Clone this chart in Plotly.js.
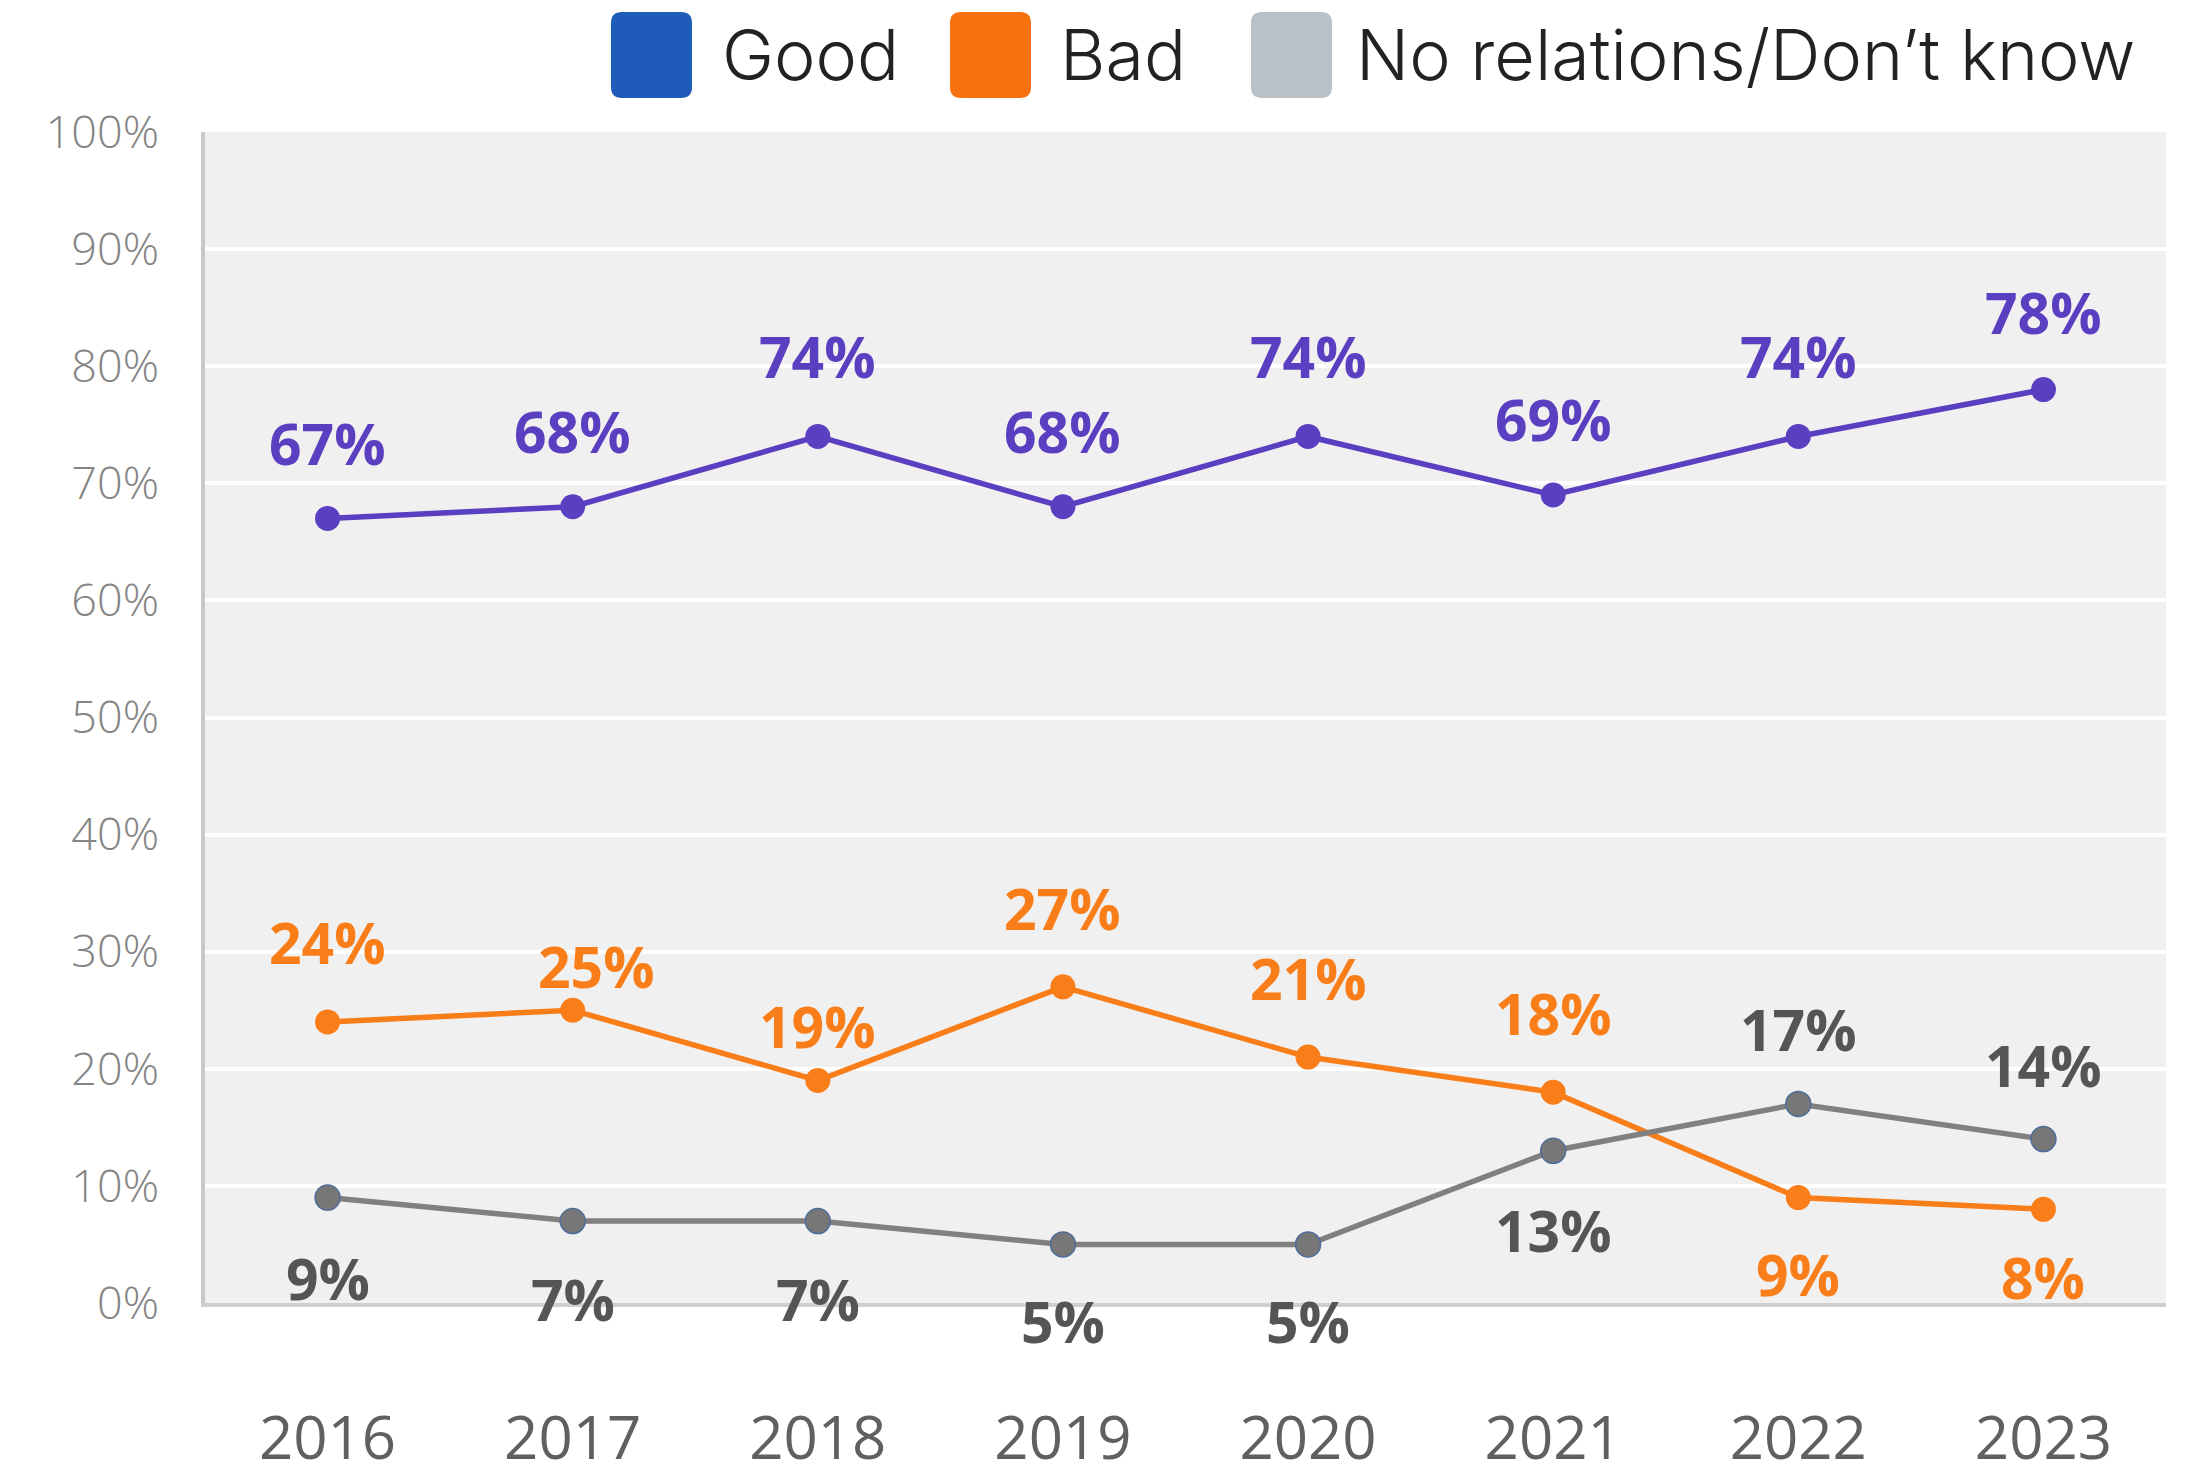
<!DOCTYPE html>
<html>
<head>
<meta charset="utf-8">
<script src="https://cdn.plot.ly/plotly-3.0.1.min.js"></script>
<style>
  html, body { margin: 0; padding: 0; background: #ffffff; }
  #chart { width: 2187px; height: 1476px; }
</style>
</head>
<body>
<div id="chart"></div>
<script>
// ---------------- DATA ----------------
const years = ['2016', '2017', '2018', '2019', '2020', '2021', '2022', '2023'];
const good = [67, 68, 74, 68, 74, 69, 74, 78];
const bad = [24, 25, 19, 27, 21, 18, 9, 8];
const noRelations = [9, 7, 7, 5, 5, 13, 17, 14];
const seriesNames = ['Good', 'Bad', 'No relations/Don\u2019t know'];
const yTickValues = [0, 10, 20, 30, 40, 50, 60, 70, 80, 90, 100];

// ---------------- STYLE ----------------
const lineColors = ['#5a3fc0', '#f97d18', '#808080'];
const markerColors = ['#5a3fc0', '#f97d18', '#777777'];
const labelColors = ['#5a3fc0', '#f97d18', '#555555'];
const legendColors = ['#1f5bb8', '#f7720f', '#b9c0c6'];
// label vertical shift (px, + is up) and horizontal shift for each point
const labelDy = [
  [75, 76, 80, 76, 80, 76, 80, 78],
  [80, 44, 55, 79, 79, 79, -76, -68],
  [-80, -78, -78, -77, -77, -79, 75, 74]
];
const labelDx = [
  [0, 0, 0, 0, 0, 0, 0, 0],
  [0, 24, 0, 0, 0, 0, 0, 0],
  [0, 0, 0, 0, 0, 0, 0, 0]
];
const legendLeftPx = [611, 950, 1251];   // swatch left edges
const legendTextPx = [720, 1058, 1354];  // text left edges

const W = 2187, H = 1476;
const M = { l: 205, r: 21, t: 132, b: 173 };
const plotW = W - M.l - M.r;

const seriesValues = [good, bad, noRelations];
const xIdx = years.map((_, i) => i);

const traces = seriesValues.map((vals, s) => ({
  type: 'scatter',
  mode: 'lines+markers',
  x: xIdx,
  y: vals,
  name: seriesNames[s],
  line: { color: lineColors[s], width: 5.5 },
  marker: {
    color: markerColors[s],
    size: 25,
    line: { color: s === 2 ? '#4f6d9a' : markerColors[s], width: s === 2 ? 1.5 : 0 }
  },
  cliponaxis: false,
  hoverinfo: 'skip'
}));

const annotations = [];
seriesValues.forEach((vals, s) => {
  vals.forEach((v, i) => {
    annotations.push({
      x: xIdx[i], y: v, xref: 'x', yref: 'y',
      text: v + '%',
      showarrow: false,
      xanchor: 'center', yanchor: 'middle',
      yshift: labelDy[s][i], xshift: labelDx[s][i],
      font: { family: 'Open Sans, sans-serif', size: 57, color: labelColors[s], weight: 700 }
    });
  });
});

// custom legend
const shapes = [];
function roundedRect(w, h, r, oy) {
  const y0 = oy, y1 = oy + h;
  return `M ${r},${y0} L ${w - r},${y0} Q ${w},${y0} ${w},${y0 + r} L ${w},${y1 - r} Q ${w},${y1} ${w - r},${y1} ` +
         `L ${r},${y1} Q 0,${y1} 0,${y1 - r} L 0,${y0 + r} Q 0,${y0} ${r},${y0} Z`;
}
seriesNames.forEach((name, s) => {
  const xa = (legendLeftPx[s] - M.l) / plotW;
  shapes.push({
    type: 'path', xref: 'paper', yref: 'paper',
    xsizemode: 'pixel', ysizemode: 'pixel',
    xanchor: xa, yanchor: 1,
    path: roundedRect(81, 86, 11, 34),
    fillcolor: legendColors[s],
    line: { width: 0 }
  });
  annotations.push({
    xref: 'paper', yref: 'paper',
    x: (legendTextPx[s] - M.l) / plotW, y: 1,
    xanchor: 'left', yanchor: 'middle',
    yshift: 132 - 54,
    text: name, showarrow: false,
    font: { family: 'Inter, sans-serif', size: 70, color: '#222222', weight: 300 }
  });
});

const layout = {
  width: W, height: H,
  margin: M,
  paper_bgcolor: '#ffffff',
  plot_bgcolor: '#f0f0f0',
  showlegend: false,
  hovermode: false,
  xaxis: {
    range: [-0.5, years.length - 0.5],
    tickvals: xIdx,
    ticktext: years,
    showgrid: false,
    zeroline: false,
    showline: true,
    linecolor: '#cfcfcf',
    linewidth: 4,
    ticks: '',
    ticklabelstandoff: 80,
    tickfont: { family: 'Open Sans, sans-serif', size: 60, color: '#606060' }
  },
  yaxis: {
    range: [0, 100],
    tickvals: yTickValues,
    ticktext: yTickValues.map(v => v + '%'),
    showgrid: true,
    gridcolor: '#ffffff',
    gridwidth: 4,
    zeroline: false,
    showline: true,
    linecolor: '#c8c8c8',
    linewidth: 4,
    ticks: '',
    ticklabelstandoff: 33,
    tickfont: { family: 'Open Sans, sans-serif', size: 45, color: '#858585', weight: 300 }
  },
  annotations: annotations,
  shapes: shapes
};

Plotly.newPlot('chart', traces, layout, { staticPlot: true, displayModeBar: false });
</script>
</body>
</html>
